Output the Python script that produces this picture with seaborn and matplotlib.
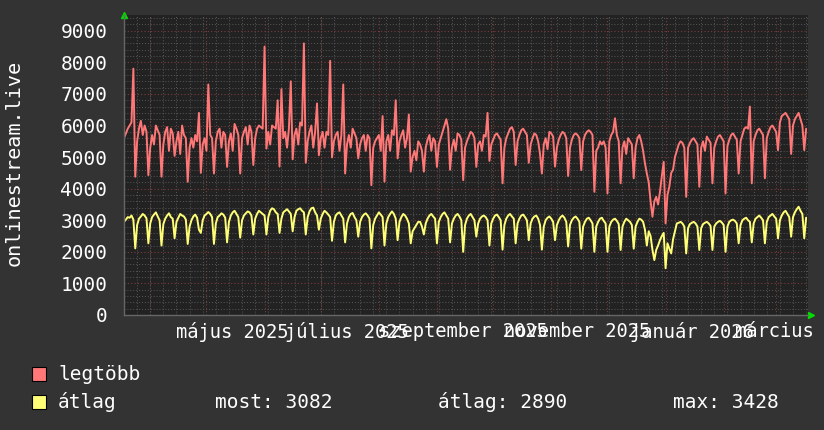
import pandas as pd
import matplotlib.pyplot as plt
import matplotlib.dates as mdates
import matplotlib.ticker as mtick
from matplotlib.patches import Rectangle
import seaborn as sns

sns.set_style("dark")
plt.rcParams['font.family'] = ['DejaVu Sans Mono', 'DejaVu Sans']

# =============================================================================
# Data (daily values, first day 2025-03-18)
# =============================================================================
start = '2025-03-18'

legtobb = [
    5600, 5750, 5900, 6000, 6100, 7800,
    4380, 5500, 5900, 6150, 5700, 6000, 5800,
    4430, 5300, 5700, 5400, 6000, 5850, 5700,
    4380, 5400, 5800, 5950, 5200, 5900, 5750,
    5040, 5500, 5800, 5100, 6000, 5700, 5600,
    4220, 5300, 5600, 5300, 5700, 5500, 6400,
    4500, 5400, 5600, 5200, 7300, 5700, 5600,
    4480, 5500, 5800, 5900, 5300, 5800, 5700,
    4690, 5500, 5750, 5200, 6050, 5900, 5700,
    4480, 5600, 5800, 5950, 5400, 6000, 5800,
    4750, 5600, 5900, 6000, 5950, 5900, 8500,
    5270, 5800, 5400, 6000, 5950, 5900, 6800,
    4700, 7150, 5600, 5800, 5300, 5900, 7400,
    4930, 5700, 5900, 5400, 6100, 6000, 8600,
    4820, 5500, 5800, 6000, 5300, 5800, 6700,
    5060, 5600, 5800, 5300, 5800, 5700, 8050,
    4990, 5500, 5700, 5800, 5200, 5700, 7300,
    4480, 5400, 5700, 5300, 5900, 5750, 5600,
    4960, 5400, 5600, 5700, 5200, 5700, 5600,
    4110, 5300, 5500, 5600, 5700, 5200, 6300,
    4220, 5500, 5700, 5200, 5850, 5700, 6800,
    4960, 5500, 5700, 5850, 5300, 5600, 6350,
    4540, 5000, 5200, 4900, 5500, 5400, 5200,
    4540, 5300, 5550, 5700, 5200, 5600, 5500,
    4690, 5400, 5600, 5800, 6000, 6200, 5900,
    4600, 5300, 5550, 5200, 5750, 5700, 5550,
    4270, 5300, 5500, 5650, 5800, 5750, 5600,
    4690, 5400, 5500, 5200, 5700, 5650, 6400,
    4880, 5400, 5550, 5700, 5750, 5650, 5550,
    4170, 5300, 5600, 5750, 5900, 5950, 5800,
    4750, 5500, 5700, 5850, 5900, 5800, 5700,
    4820, 5400, 5600, 5750, 5700, 5500, 5100,
    4480, 5400, 5600, 5250, 5800, 5750, 5650,
    4700, 5300, 5550, 5700, 5800, 5750, 5600,
    4400, 5300, 5550, 5700, 5750, 5700, 5600,
    4590, 5500, 5700, 5800, 5850, 5800, 5700,
    3900, 5200, 5300, 5500, 5400, 5500, 5300,
    3850, 5500, 5700, 5800, 6230, 5700, 5500,
    4170, 5300, 5500, 5100, 5600, 5500, 5400,
    4330, 5300, 5600, 5700, 5500, 5200, 4800,
    4480, 4200, 3600, 3110, 3600, 3740, 3500,
    3900, 4400, 4850, 2900, 3800, 4060, 4500,
    4600, 5000, 5200, 5400, 5500, 5450, 5300,
    3740, 5300, 5450, 5550, 5600, 5500, 5400,
    4060, 5300, 5500, 5200, 5650, 5550, 5450,
    4170, 5300, 5500, 5650, 5700, 5600, 5500,
    3850, 5350, 5550, 5700, 5750, 5650, 5550,
    4480, 5500, 5700, 5900, 5950, 5900, 6600,
    4170, 5500, 5700, 5850, 5900, 5800, 5700,
    4330, 5600, 5800, 5950, 6000, 5900, 5800,
    5220, 6100, 6300, 6350, 6400, 6300, 6200,
    5100, 6000, 6200, 6300, 6400, 6200, 6000,
    5220, 5900,
]

atlag = [
    2950, 3020, 3100, 3080, 3150, 3020,
    2110, 2850, 3050, 3120, 3200, 3150, 3060,
    2270, 2900, 3100, 3180, 3250, 3120, 3000,
    2200, 2880, 3050, 3150, 3220, 3100, 3050,
    2430, 2950, 3080, 3200, 3150, 3120, 3020,
    2250, 2800, 3000, 3120, 3180, 3080, 2700,
    2600, 3000, 3150, 3200, 3260, 3200, 3100,
    2250, 2900, 3100, 3150, 3220, 3180, 3080,
    2300, 2950, 3150, 3250, 3300, 3200, 3100,
    2450, 3000, 3150, 3220, 3280, 3250, 3150,
    2550, 3050, 3200, 3300, 3250, 3200, 3150,
    2550, 3100, 3300, 3380, 3350, 3250, 3200,
    2600, 3050, 3250, 3300, 3350, 3280, 3200,
    2650, 3100, 3300, 3350, 3380, 3300, 3250,
    2550, 3100, 3280, 3380, 3400, 3250, 3150,
    2700, 3050, 3200, 3300, 3250, 3180, 3100,
    2350, 2950, 3150, 3220, 3250, 3150, 3050,
    2300, 2900, 3100, 3200, 3230, 3100, 3000,
    2480, 2950, 3100, 3180, 3220, 3150, 3050,
    2110, 2850, 3050, 3150, 3250, 3180, 3100,
    2200, 2900, 3100, 3200, 3280, 3200, 3050,
    2370, 2950, 3100, 3200, 3150, 3050, 2900,
    2270, 2650, 2750, 2850, 2950, 2950, 2800,
    2550, 2900, 3050, 3150, 3200, 3120, 3050,
    2270, 2950, 3100, 3200, 3250, 3150, 3050,
    2300, 2900, 3050, 3150, 3200, 3120, 3000,
    2000, 2850, 3050, 3150, 3200, 3100, 3000,
    2480, 2900, 3050, 3120, 3150, 3100, 3000,
    2200, 2900, 3050, 3150, 3180, 3100, 3000,
    2070, 2850, 3050, 3150, 3200, 3120, 3050,
    2270, 2900, 3050, 3150, 3180, 3100, 3000,
    2370, 2900, 3050, 3120, 3150, 3050, 2850,
    2070, 2800, 3000, 3080, 3120, 3050, 2950,
    2370, 2850, 3000, 3100, 3150, 3080, 2950,
    2170, 2850, 3000, 3080, 3120, 3050, 2950,
    2100, 2800, 2950, 3050, 3080, 3000, 2900,
    2000, 2800, 2950, 3050, 3080, 2980, 2900,
    2000, 2800, 2950, 3020, 3050, 2980, 2880,
    2060, 2800, 2950, 3050, 3000, 2950, 2850,
    2100, 2800, 2950, 3050, 3020, 2950, 2700,
    2200, 2650, 2500, 2060, 1740, 2060, 2200,
    2370, 2500, 2600, 1480, 2270, 2100, 1950,
    2400, 2650, 2900, 2920, 2950, 2900, 2800,
    1950, 2750, 2880, 2920, 2950, 2900, 2800,
    2060, 2750, 2880, 2920, 2950, 2900, 2820,
    2060, 2800, 2900, 2950, 2980, 2930, 2850,
    2000, 2800, 2950, 3000, 3020, 2980, 2900,
    2270, 2850, 3000, 3050, 3080, 3000, 2950,
    2300, 2900, 3050, 3100, 3150, 3080, 3000,
    2270, 2950, 3100, 3150, 3200, 3120, 3050,
    2430, 3000, 3150, 3250, 3300, 3200, 3100,
    2480, 3100, 3250, 3350, 3428, 3300, 3200,
    2430, 3082,
]

series_names = ['legtöbb', 'átlag']
series_colors = ['#ff7777', '#ffff77']
month_labels = ['május 2025', 'július 2025', 'szeptember 2025',
                'november 2025', 'január 2026', 'március 2026']
label_dates = ['2025-05-15', '2025-07-15', '2025-09-15',
               '2025-11-15', '2026-01-15', '2026-03-15']
stat_labels = ['most: 3082', 'átlag: 2890', 'max: 3428']
ylabel = 'onlinestream.live'

# =============================================================================
# Long format for seaborn
# =============================================================================
days = pd.date_range(start, periods=len(atlag), freq='D')
df = pd.concat([
    pd.DataFrame({'nap': days, 'ertek': legtobb, 'sorozat': series_names[0]}),
    pd.DataFrame({'nap': days, 'ertek': atlag, 'sorozat': series_names[1]}),
])

# =============================================================================
# Plot
# =============================================================================
W, H = 824, 430
back = '#333333'
canvas = '#222222'
gridc = '#585858'
mgridc = '#7a3b3b'

fig = plt.figure(figsize=(W / 100, H / 100), dpi=100, facecolor=back)
ax = fig.add_axes([124 / W, 1 - 315 / H, 684 / W, 300 / H], facecolor=canvas)

ax.set_axisbelow(True)
ax.yaxis.set_major_locator(mtick.MultipleLocator(1000))
ax.yaxis.set_minor_locator(mtick.MultipleLocator(200))
ax.xaxis.set_minor_locator(mdates.WeekdayLocator(byweekday=mdates.TU))
ax.grid(which='minor', axis='both', color=gridc, linestyle=(0, (1, 2)), linewidth=0.7)
ax.grid(which='major', axis='y', color=mgridc, linestyle=(0, (1, 2)), linewidth=0.8)
for m in pd.date_range('2025-04-01', '2026-03-01', freq='MS'):
    ax.axvline(m, color=mgridc, linestyle=(0, (1, 2)), linewidth=0.8, zorder=0.5)

sns.lineplot(data=df, x='nap', y='ertek', hue='sorozat',
             palette=dict(zip(series_names, series_colors)),
             linewidth=1.4, legend=False, ax=ax)

ax.set_xlim(pd.Timestamp(start), pd.Timestamp(start) + pd.Timedelta(days=365))
ax.set_ylim(0, 9500)
ax.set_yticks(range(0, 9001, 1000))
ax.set_xticks(pd.to_datetime(label_dates))
ax.set_xticklabels(month_labels)
ax.grid(False, which='major', axis='x')

ax.tick_params(axis='y', which='major', length=0, pad=12, labelsize=14, labelcolor='white')
ax.tick_params(axis='x', which='major', length=0, pad=5, labelsize=13.5, labelcolor='white')
ax.tick_params(which='minor', length=2, color=gridc)
ax.set_xlabel('')
ax.set_ylabel('')
for s in ['top', 'right']:
    ax.spines[s].set_visible(False)
for s in ['left', 'bottom']:
    ax.spines[s].set_color('#666666')
    ax.spines[s].set_linewidth(1)

# rrdtool style green arrows
ax.plot([0], [1.0], marker='^', color='#00dd00', markersize=5,
        transform=ax.transAxes, clip_on=False)
ax.plot([1.004], [0], marker='>', color='#00dd00', markersize=5,
        transform=ax.transAxes, clip_on=False)

fig.text(14 / W, 1 - 163 / H, ylabel, rotation=90, color='white',
         fontsize=14.5, ha='center', va='center')

# legend
for i, (name, col) in enumerate(zip(series_names, series_colors)):
    yc = 374 + i * 28
    fig.patches.append(Rectangle((32 / W, 1 - (yc + 7) / H), 14 / W, 14 / H,
                                 facecolor=col, edgecolor='black', linewidth=0.8,
                                 transform=fig.transFigure))
    fig.text(58 / W, 1 - yc / H, name, color='white', fontsize=14,
             ha='left', va='center')
for x, txt in zip([215, 438, 673], stat_labels):
    fig.text(x / W, 1 - 402 / H, txt, color='white', fontsize=14,
             ha='left', va='center')

plt.savefig('out.png', dpi=100, facecolor=back)
